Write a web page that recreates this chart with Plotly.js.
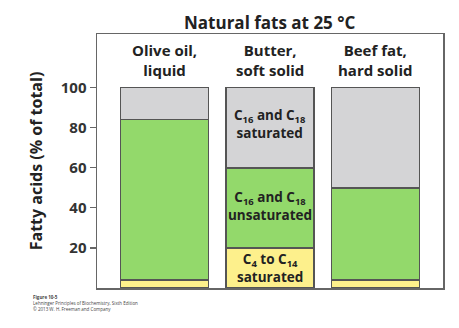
<!DOCTYPE html>
<html><head><meta charset="utf-8">
<script src="https://cdn.plot.ly/plotly-3.0.1.min.js"></script>
<style>html,body{margin:0;padding:0;background:#fff}</style>
</head><body><div id="chart" style="width:459px;height:328px"></div>
<script>
var categories = ["Olive oil,<br>liquid", "Butter,<br>soft solid", "Beef fat,<br>hard solid"];
var shortChain = [4, 20, 4];          // C4 to C14 saturated
var unsat = [80, 40, 46];             // C16 and C18 unsaturated
var sat = [16, 40, 50];               // C16 and C18 saturated
var tickVals = [20, 40, 60, 80, 100];
var segLabels = ["C<sub>4</sub> to C<sub>14</sub><br>saturated",
                 "C<sub>16</sub> and C<sub>18</sub><br>unsaturated",
                 "C<sub>16</sub> and C<sub>18</sub><br>saturated"];

var xs = categories.map(function(_, i){ return i; });
var line = {color: '#555', width: 1.5};
var traces = [
  {type:'bar', x: xs, y: shortChain, marker:{color:'#fdf08c', line: line}, width:0.83, hoverinfo:'none'},
  {type:'bar', x: xs, y: unsat, marker:{color:'#93d96b', line: line}, width:0.83, hoverinfo:'none'},
  {type:'bar', x: xs, y: sat, marker:{color:'#d4d4d6', line: line}, width:0.83, hoverinfo:'none'}
];
var F = "'Open Sans', sans-serif";
var ann = [];
categories.forEach(function(c, i){
  ann.push({x: i, y: 1.0, xref:'x', yref:'paper', yanchor:'top', yshift:-4, text: '<b>'+c+'</b>',
    showarrow:false, font:{family:F, size:15, color:'#222'}});
});
// segment labels in butter bar
var b = 1;
var bottoms = [0, shortChain[b], shortChain[b] + unsat[b]];
var vals = [shortChain[b], unsat[b], sat[b]];
var centersShift = [0, 1, 2];
for (var k = 0; k < 3; k++) {
  ann.push({x: b, y: bottoms[k] + vals[k]/2 + centersShift[k], xref:'x', yref:'y', text: '<b>'+segLabels[k]+'</b>',
    showarrow:false, font:{family:F, size:13.5, color:'#222'}});
}
ann.push({x: 0.5, y: 1.047, xref:'paper', yref:'paper', xanchor:'center', yanchor:'middle', text:'<b>Natural fats at 25 °C</b>',
  showarrow:false, font:{family:F, size:17, color:'#222'}});
ann.push({x: -0.19, y: -0.015, xref:'paper', yref:'paper', xanchor:'left', yanchor:'top', align:'left',
  text:'<b>Figure 10-5</b><br>Lehninger Principles of Biochemistry, Sixth Edition<br>© 2013 W. H. Freeman and Company',
  showarrow:false, font:{family:F, size:4.5, color:'#444'}});

var layout = {
  width: 459, height: 328,
  margin: {l: 97, r: 16, t: 34, b: 40, pad: 0},
  paper_bgcolor: '#fff', plot_bgcolor: '#fff',
  barmode: 'stack', showlegend: false,
  xaxis: {range: [-0.64, 2.64], showticklabels: false, ticks: '', showgrid: false, zeroline: false,
          showline: true, mirror: true, linecolor: '#666', linewidth: 1.5, fixedrange: true},
  yaxis: {range: [0, 126.8], tickvals: tickVals, ticks: 'outside', ticklen: 6, tickcolor: '#666', tickwidth: 1.2,
          showgrid: false, zeroline: false, showline: true, mirror: true, linecolor: '#666', linewidth: 1.5,
          tickfont: {family: F, size: 15, color: '#333', weight: 'bold'},
          title: {text: '<b>Fatty acids (% of total)</b>', font: {family: F, size: 16, color: '#222'}, standoff: 14},
          fixedrange: true},
  annotations: ann
};
Plotly.newPlot('chart', traces, layout, {staticPlot: true, displayModeBar: false});
</script></body></html>
